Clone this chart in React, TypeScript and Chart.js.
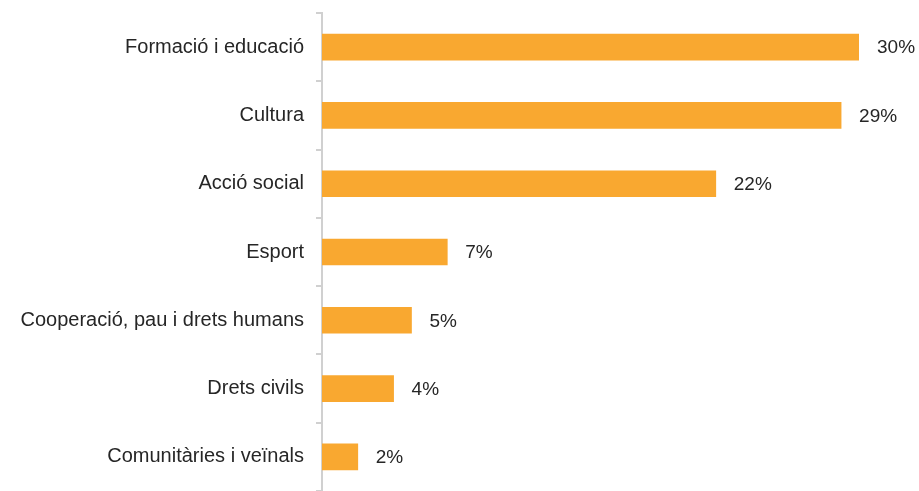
import React, { useEffect, useRef } from "react";
import { Chart, registerables } from "chart.js";

Chart.register(...registerables);

const categories = [
  "Formació i educació",
  "Cultura",
  "Acció social",
  "Esport",
  "Cooperació, pau i drets humans",
  "Drets civils",
  "Comunitàries i veïnals",
];
const values = [30, 29, 22, 7, 5, 4, 2];
const valueLabels = ["30%", "29%", "22%", "7%", "5%", "4%", "2%"];

const FONT = "'Liberation Sans', Arial, Helvetica, sans-serif";
const TEXT = "#262626";

const dataLabels = {
  id: "dataLabels",
  afterDatasetsDraw(chart: any) {
    const ctx = chart.ctx;
    const meta = chart.getDatasetMeta(0);
    ctx.save();
    ctx.font = `19px ${FONT}`;
    ctx.fillStyle = TEXT;
    ctx.textAlign = "left";
    ctx.textBaseline = "middle";
    meta.data.forEach((el: any, i: number) => {
      ctx.fillText(valueLabels[i], el.x + 18, el.y + 1);
    });
    ctx.restore();
  },
};

export default function App() {
  const ref = useRef<HTMLCanvasElement | null>(null);
  useEffect(() => {
    if (!ref.current) return;
    const chart = new Chart(ref.current, {
      type: "bar",
      data: {
        labels: categories,
        datasets: [
          {
            data: values,
            backgroundColor: "#F9A830",
            borderWidth: 0,
            barThickness: 26,
          },
        ],
      },
      options: {
        indexAxis: "y",
        animation: false,
        responsive: false,
        maintainAspectRatio: false,
        layout: { padding: { top: 13, right: 60, bottom: 0, left: 0 } },
        plugins: {
          legend: { display: false },
          tooltip: { enabled: false },
        },
        scales: {
          x: { display: false, min: 0, max: 30 },
          y: {
            afterFit: (scale: any) => {
              scale.width = 322;
              scale.paddingTop = 0;
              scale.paddingBottom = 0;
            },
            border: { display: true, color: "#D0D0D0", width: 2 },
            grid: {
              display: true,
              drawOnChartArea: false,
              drawTicks: true,
              tickLength: 6,
              color: "#D0D0D0",
              lineWidth: 2,
            },
            ticks: {
              padding: 12,
              color: TEXT,
              font: { family: FONT, size: 20 },
            },
          },
        },
      },
      plugins: [dataLabels],
    });
    return () => chart.destroy();
  }, []);
  return (
    <div
      style={{
        position: "fixed",
        left: 0,
        top: 0,
        width: 919,
        height: 491,
        background: "#fff",
      }}
    >
      <canvas ref={ref} width={919} height={491} style={{ display: "block" }} />
    </div>
  );
}
